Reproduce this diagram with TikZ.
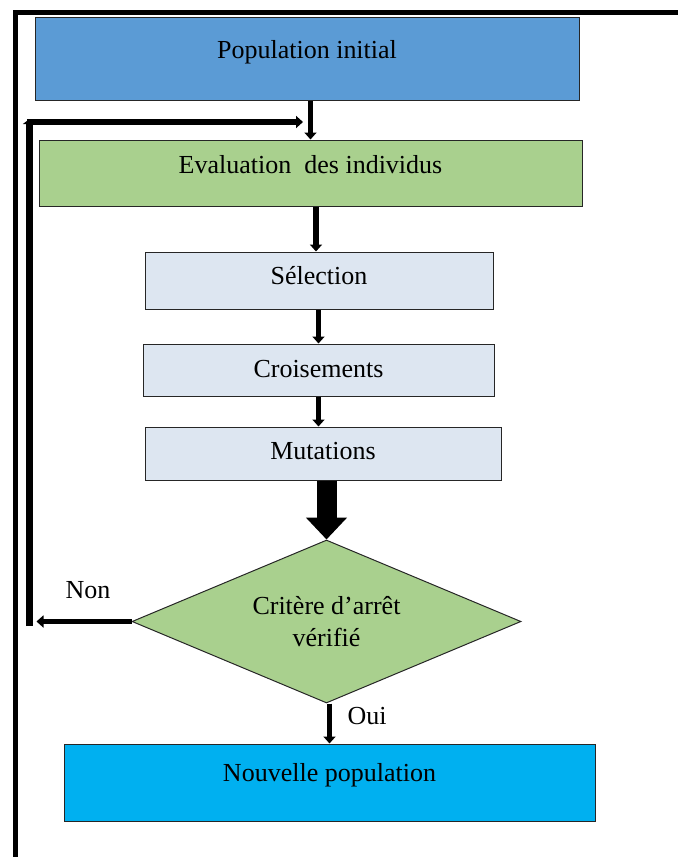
\documentclass[tikz,border=0pt]{standalone}
\usepackage{fontspec}
\setmainfont{Liberation Serif}
\usetikzlibrary{arrows.meta}
\usetikzlibrary{shapes.geometric,positioning}

\definecolor{popblue}{RGB}{91,155,213}
\definecolor{evalgreen}{RGB}{169,208,142}
\definecolor{steplight}{RGB}{221,230,241}
\definecolor{newblue}{RGB}{0,176,240}

\tikzset{
  boxline/.style={draw=black!85, line width=0.5pt, inner sep=0pt, text=black, font=\fontsize{13}{16}\selectfont},
  box/.style={boxline, rectangle, text height=10pt},
  decision/.style={boxline, diamond, aspect=2.4, align=center},
  flow/.style={line width=2.75pt, -{Triangle[width=6pt,length=3.5pt]}},
}

\begin{document}
\begin{tikzpicture}[x=0.5pt,y=-0.5pt]
    \useasboundingbox (0,0) rectangle (678,857);
    \draw [line width=2.5pt] (678,12) -- (15,12) -- (15,857);

    \node (popinit) [box, fill=popblue, minimum width=272pt, minimum height=41.5pt, text depth=10pt] at (307,58.5) {Population initial};

    \node (eval) [box, fill=evalgreen, minimum width=271.5pt, minimum height=33pt, text depth=10pt] at (310.5,173) {Evaluation~ des individus};

    \node (select) [box, fill=steplight, minimum width=174pt, minimum height=28.5pt, text depth=6pt] at (319,280.5) {Sélection};

    \node (cross) [box, fill=steplight, minimum width=175.5pt, minimum height=26pt, text depth=3pt] at (318.5,370) {Croisements};

    \node (mutate) [box, fill=steplight, minimum width=178pt, minimum height=26.5pt, text depth=4pt] at (323,453.5) {Mutations};

    \node (crit) [decision, fill=evalgreen, minimum width=194.5pt, minimum height=81.5pt] at (326.5,621.5) {Critère d’arrêt\\vérifié};

    \node (newpop) [box, fill=newblue, minimum width=265.5pt, minimum height=38.5pt, text depth=11pt] at (329.5,782.5) {Nouvelle population};

    \node (non) [font=\fontsize{13}{16}\selectfont] at (88,590) {Non};
    \node (oui) [font=\fontsize{13}{16}\selectfont] at (367,716) {Oui};

    \coordinate (loopbot) at (29.5,626);
    \coordinate (looptop) at (29.5,119);
    \coordinate (loopturn) at (27,122);
    \coordinate (back) at (303,122);

    \draw [flow] (popinit.south -| eval.north) -- (eval.north);
    \draw [flow] ([xshift=-1.5pt]eval.south -| select.north) -- ([xshift=-1.5pt]select.north);
    \draw [flow] (select.south -| cross.north) -- (cross.north);
    \draw [flow] (cross.south) -- (cross.south |- mutate.north);
    \draw [line width=10pt, -{Triangle[width=20pt,length=11pt]}] (mutate.south -| crit.north) -- (crit.north);
    \draw [flow, line width=2.5pt, shorten >=3.5pt] (crit.west) -- (crit.west -| loopbot);
    \draw [line width=3.5pt, -{Triangle[width=6.5pt,length=2.5pt]}] (loopbot) -- (looptop);
    \draw [flow] (loopturn) -- (back);
    \draw [flow] (newpop.north |- crit.south) -- (newpop.north);
\end{tikzpicture}
\end{document}
